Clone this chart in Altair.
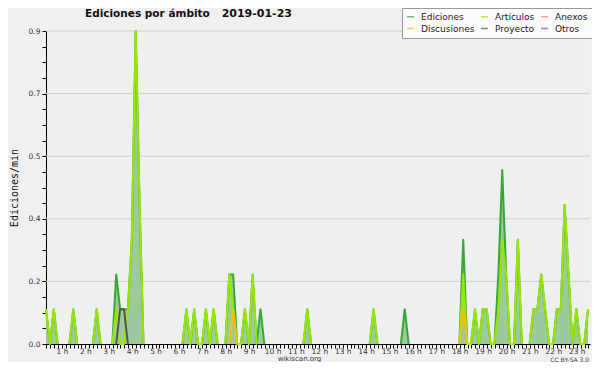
import altair as alt
import pandas as pd

# ---------------- data (10-minute bins, edits per minute) ----------------
series_names = ["Ediciones", "Artículos", "Anexos", "Discusiones", "Proyecto", "Otros"]
series_colors = ["#35a835", "#9be600", "#ff7f50", "#f2c200", "#555555", "#8a3fe0"]

# bin start (minutes after midnight) for each of the 140 points
bin_minutes = list(range(19, 1409 + 1, 10))

ediciones = [
    0.1, 0, 0.1, 0, 0, 0, 0, 0.1, 0, 0, 0, 0, 0, 0.1, 0, 0, 0, 0, 0.2, 0.1,
    0.1, 0.1, 0.3, 0.9, 0.4, 0, 0, 0, 0, 0, 0, 0, 0, 0, 0, 0, 0.1, 0, 0.1, 0,
    0, 0.1, 0, 0.1, 0, 0, 0, 0.2, 0.2, 0, 0, 0.1, 0, 0.2, 0, 0.1, 0, 0, 0, 0,
    0, 0, 0, 0, 0, 0, 0, 0.1, 0, 0, 0, 0, 0, 0, 0, 0, 0, 0, 0, 0,
    0, 0, 0, 0, 0.1, 0, 0, 0, 0, 0, 0, 0, 0.1, 0, 0, 0, 0, 0, 0, 0,
    0, 0, 0, 0, 0, 0, 0, 0.3, 0, 0, 0.1, 0, 0.1, 0.1, 0, 0, 0.2, 0.5, 0.2, 0,
    0, 0.3, 0, 0, 0, 0.1, 0.1, 0.2, 0.1, 0, 0, 0.1, 0.1, 0.4, 0.2, 0, 0.1, 0, 0, 0.1,
]
articulos = [
    0.1, 0, 0.1, 0, 0, 0, 0, 0.1, 0, 0, 0, 0, 0, 0.1, 0, 0, 0, 0, 0.1, 0,
    0, 0.1, 0.3, 0.9, 0.4, 0, 0, 0, 0, 0, 0, 0, 0, 0, 0, 0, 0.1, 0, 0.1, 0,
    0, 0.1, 0, 0.1, 0, 0, 0, 0.2, 0.1, 0, 0, 0.1, 0, 0.2, 0, 0, 0, 0, 0, 0,
    0, 0, 0, 0, 0, 0, 0, 0.1, 0, 0, 0, 0, 0, 0, 0, 0, 0, 0, 0, 0,
    0, 0, 0, 0, 0.1, 0, 0, 0, 0, 0, 0, 0, 0, 0, 0, 0, 0, 0, 0, 0,
    0, 0, 0, 0, 0, 0, 0, 0.2, 0, 0, 0.1, 0, 0.1, 0.1, 0, 0, 0.1, 0.3, 0.2, 0,
    0, 0.3, 0, 0, 0, 0.1, 0.1, 0.2, 0.1, 0, 0, 0.1, 0.1, 0.4, 0.2, 0, 0.1, 0, 0, 0.1,
]
anexos = [
    0, 0, 0, 0, 0, 0, 0, 0, 0, 0, 0, 0, 0, 0, 0, 0, 0, 0, 0, 0,
    0, 0, 0, 0, 0, 0, 0, 0, 0, 0, 0, 0, 0, 0, 0, 0, 0, 0, 0, 0,
    0, 0, 0, 0, 0, 0, 0, 0, 0, 0, 0, 0, 0, 0, 0, 0, 0, 0, 0, 0,
    0, 0, 0, 0, 0, 0, 0, 0, 0, 0, 0, 0, 0, 0, 0, 0, 0, 0, 0, 0,
    0, 0, 0, 0, 0, 0, 0, 0, 0, 0, 0, 0, 0, 0, 0, 0, 0, 0, 0, 0,
    0, 0, 0, 0, 0, 0, 0, 0, 0, 0, 0, 0, 0, 0, 0, 0, 0, 0, 0, 0,
    0, 0, 0, 0, 0, 0, 0, 0, 0, 0, 0, 0, 0, 0, 0, 0, 0, 0, 0, 0,
]
discusiones = [
    0, 0, 0, 0, 0, 0, 0, 0, 0, 0, 0, 0, 0, 0, 0, 0, 0, 0, 0, 0,
    0, 0, 0, 0, 0, 0, 0, 0, 0, 0, 0, 0, 0, 0, 0, 0, 0, 0, 0, 0,
    0, 0, 0, 0, 0, 0, 0, 0, 0.1, 0, 0, 0, 0, 0, 0, 0, 0, 0, 0, 0,
    0, 0, 0, 0, 0, 0, 0, 0, 0, 0, 0, 0, 0, 0, 0, 0, 0, 0, 0, 0,
    0, 0, 0, 0, 0, 0, 0, 0, 0, 0, 0, 0, 0, 0, 0, 0, 0, 0, 0, 0,
    0, 0, 0, 0, 0, 0, 0, 0.1, 0, 0, 0, 0, 0, 0, 0, 0, 0, 0, 0, 0,
    0, 0, 0, 0, 0, 0, 0, 0, 0, 0, 0, 0, 0, 0, 0, 0, 0, 0, 0, 0,
]
proyecto = [
    0, 0, 0, 0, 0, 0, 0, 0, 0, 0, 0, 0, 0, 0, 0, 0, 0, 0, 0, 0.1,
    0.1, 0, 0, 0, 0, 0, 0, 0, 0, 0, 0, 0, 0, 0, 0, 0, 0, 0, 0, 0,
    0, 0, 0, 0, 0, 0, 0, 0, 0, 0, 0, 0, 0, 0, 0, 0, 0, 0, 0, 0,
    0, 0, 0, 0, 0, 0, 0, 0, 0, 0, 0, 0, 0, 0, 0, 0, 0, 0, 0, 0,
    0, 0, 0, 0, 0, 0, 0, 0, 0, 0, 0, 0, 0, 0, 0, 0, 0, 0, 0, 0,
    0, 0, 0, 0, 0, 0, 0, 0, 0, 0, 0, 0, 0, 0, 0, 0, 0, 0, 0, 0,
    0, 0, 0, 0, 0, 0, 0, 0, 0, 0, 0, 0, 0, 0, 0, 0, 0, 0, 0, 0,
]
otros = [
    0, 0, 0, 0, 0, 0, 0, 0, 0, 0, 0, 0, 0, 0, 0, 0, 0, 0, 0, 0,
    0, 0, 0, 0, 0, 0, 0, 0, 0, 0, 0, 0, 0, 0, 0, 0, 0, 0, 0, 0,
    0, 0, 0, 0, 0, 0, 0, 0, 0, 0, 0, 0, 0, 0, 0, 0, 0, 0, 0, 0,
    0, 0, 0, 0, 0, 0, 0, 0, 0, 0, 0, 0, 0, 0, 0, 0, 0, 0, 0, 0,
    0, 0, 0, 0, 0, 0, 0, 0, 0, 0, 0, 0, 0, 0, 0, 0, 0, 0, 0, 0,
    0, 0, 0, 0, 0, 0, 0, 0, 0, 0, 0, 0, 0, 0, 0, 0, 0, 0, 0, 0,
    0, 0, 0, 0, 0, 0, 0, 0, 0, 0, 0, 0, 0, 0, 0, 0, 0, 0, 0, 0,
]

# axis ticks: every 10 minutes on x (labelled each hour), every 0.045 on y
x_tick_values = list(range(20, 1411, 10))
y_tick_values = [round(k * 0.045, 3) for k in range(21)]
y_grid_values = [0.18, 0.36, 0.54, 0.72, 0.9]

title_left = "Ediciones por ámbito"
title_date = "2019-01-23"
y_title = "Ediciones/min"
footer_site = "wikiscan.org"
footer_license = "CC BY-SA 3.0"

# ---------------- tables ----------------
all_series = [ediciones, articulos, anexos, discusiones, proyecto, otros]
n = len(bin_minutes)
line_rows = []
for k, (name, vals) in enumerate(zip(series_names, all_series)):
    for i, m in enumerate(bin_minutes):
        v = vals[i]
        near = v > 0 or (i > 0 and vals[i - 1] > 0) or (i < n - 1 and vals[i + 1] > 0)
        line_rows.append({"serie": name, "min": m, "v": v if near else None, "k": k})
line_df = pd.DataFrame(line_rows)
area_df = pd.DataFrame({"min": bin_minutes, "v": ediciones})
grid_df = pd.DataFrame({"v": y_grid_values})

AX_FONT = "DejaVu Sans"

x_enc = alt.X(
    "min:Q",
    scale=alt.Scale(domain=[19, 1414], nice=False, zero=False),
    axis=alt.Axis(
        values=x_tick_values,
        labelExpr="datum.value % 60 == 0 ? (datum.value / 60) + ' h' : ''",
        labelOverlap=False, labelFlush=False, grid=False,
        tickSize=4, tickColor="#000", domainColor="#000", tickWidth=1, domainWidth=1,
        labelFont=AX_FONT, labelFontSize=7.5, labelColor="#333", labelPadding=-1,
        title=None,
    ),
)
y_enc = alt.Y(
    "v:Q",
    scale=alt.Scale(domain=[0, 0.9], nice=False),
    axis=alt.Axis(
        values=y_tick_values,
        labelExpr="abs(datum.value / 0.18 - round(datum.value / 0.18)) < 0.001 ? format(datum.value, '.1f') : ''",
        labelOverlap=False, labelFlush=False, grid=False,
        tickSize=4, tickColor="#000", domainColor="#000", tickWidth=1, domainWidth=1,
        labelFont=AX_FONT, labelFontSize=7.5, labelColor="#333", labelPadding=2,
        title=y_title, titleFont="DejaVu Sans Mono", titleFontSize=10,
        titleFontWeight="normal", titleColor="#111", titleX=-27, titleY=156.5,
    ),
)

grid = alt.Chart(grid_df).mark_rule(color="#cfcfcf", strokeWidth=1).encode(y=y_enc)

area = alt.Chart(area_df).mark_area(color="#9dca9d", opacity=1).encode(x=x_enc, y=y_enc)

lines = alt.Chart(line_df).mark_line(
    strokeWidth=2, strokeJoin="round", invalid="break-paths-show-domains"
).encode(
    x=x_enc,
    y=y_enc,
    color=alt.Color(
        "serie:N",
        scale=alt.Scale(domain=series_names, range=series_colors),
        legend=alt.Legend(
            orient="none", legendX=356, legendY=-23, columns=3, direction="horizontal",
            gridAlign="each",
            symbolType="stroke", symbolSize=49, symbolStrokeWidth=1.5, symbolOpacity=0.7,
            labelFont=AX_FONT, labelFontSize=9, labelColor="#222", labelOffset=6,
            columnPadding=3, rowPadding=2, padding=4,
            fillColor="#fbfbfb", strokeColor="#999999", title=None,
        ),
    ),
    order=alt.Order("k:Q"),
)

def text_layer(txt, x, y, size, weight="normal", align="left", color="#222", font=AX_FONT):
    return alt.Chart(pd.DataFrame({"t": [txt]})).mark_text(
        font=font, fontSize=size, fontWeight=weight, align=align,
        baseline="middle", color=color,
    ).encode(text="t:N", x=alt.value(x), y=alt.value(y))

texts = [
    text_layer(title_left, 39, -17, 10.5, "bold", "left", "#111"),
    text_layer(title_date, 246, -17, 11, "bold", "right", "#111"),
    text_layer(footer_site, 253.5, 328.3, 7, "normal", "center", "#333"),
    text_layer(footer_license, 543, 328.7, 6, "normal", "right", "#444"),
]

chart = alt.layer(grid, area, lines, *texts).properties(
    width=544,
    height=313,
    padding={"left": 38, "top": 23, "right": 2, "bottom": 18},
    autosize=alt.AutoSizeParams(type="none"),
    background="#f0f0f0",
).configure_view(stroke=None, fill="#eeeff0")

chart.save("out.html", embed_options={"renderer": "svg", "actions": False})
